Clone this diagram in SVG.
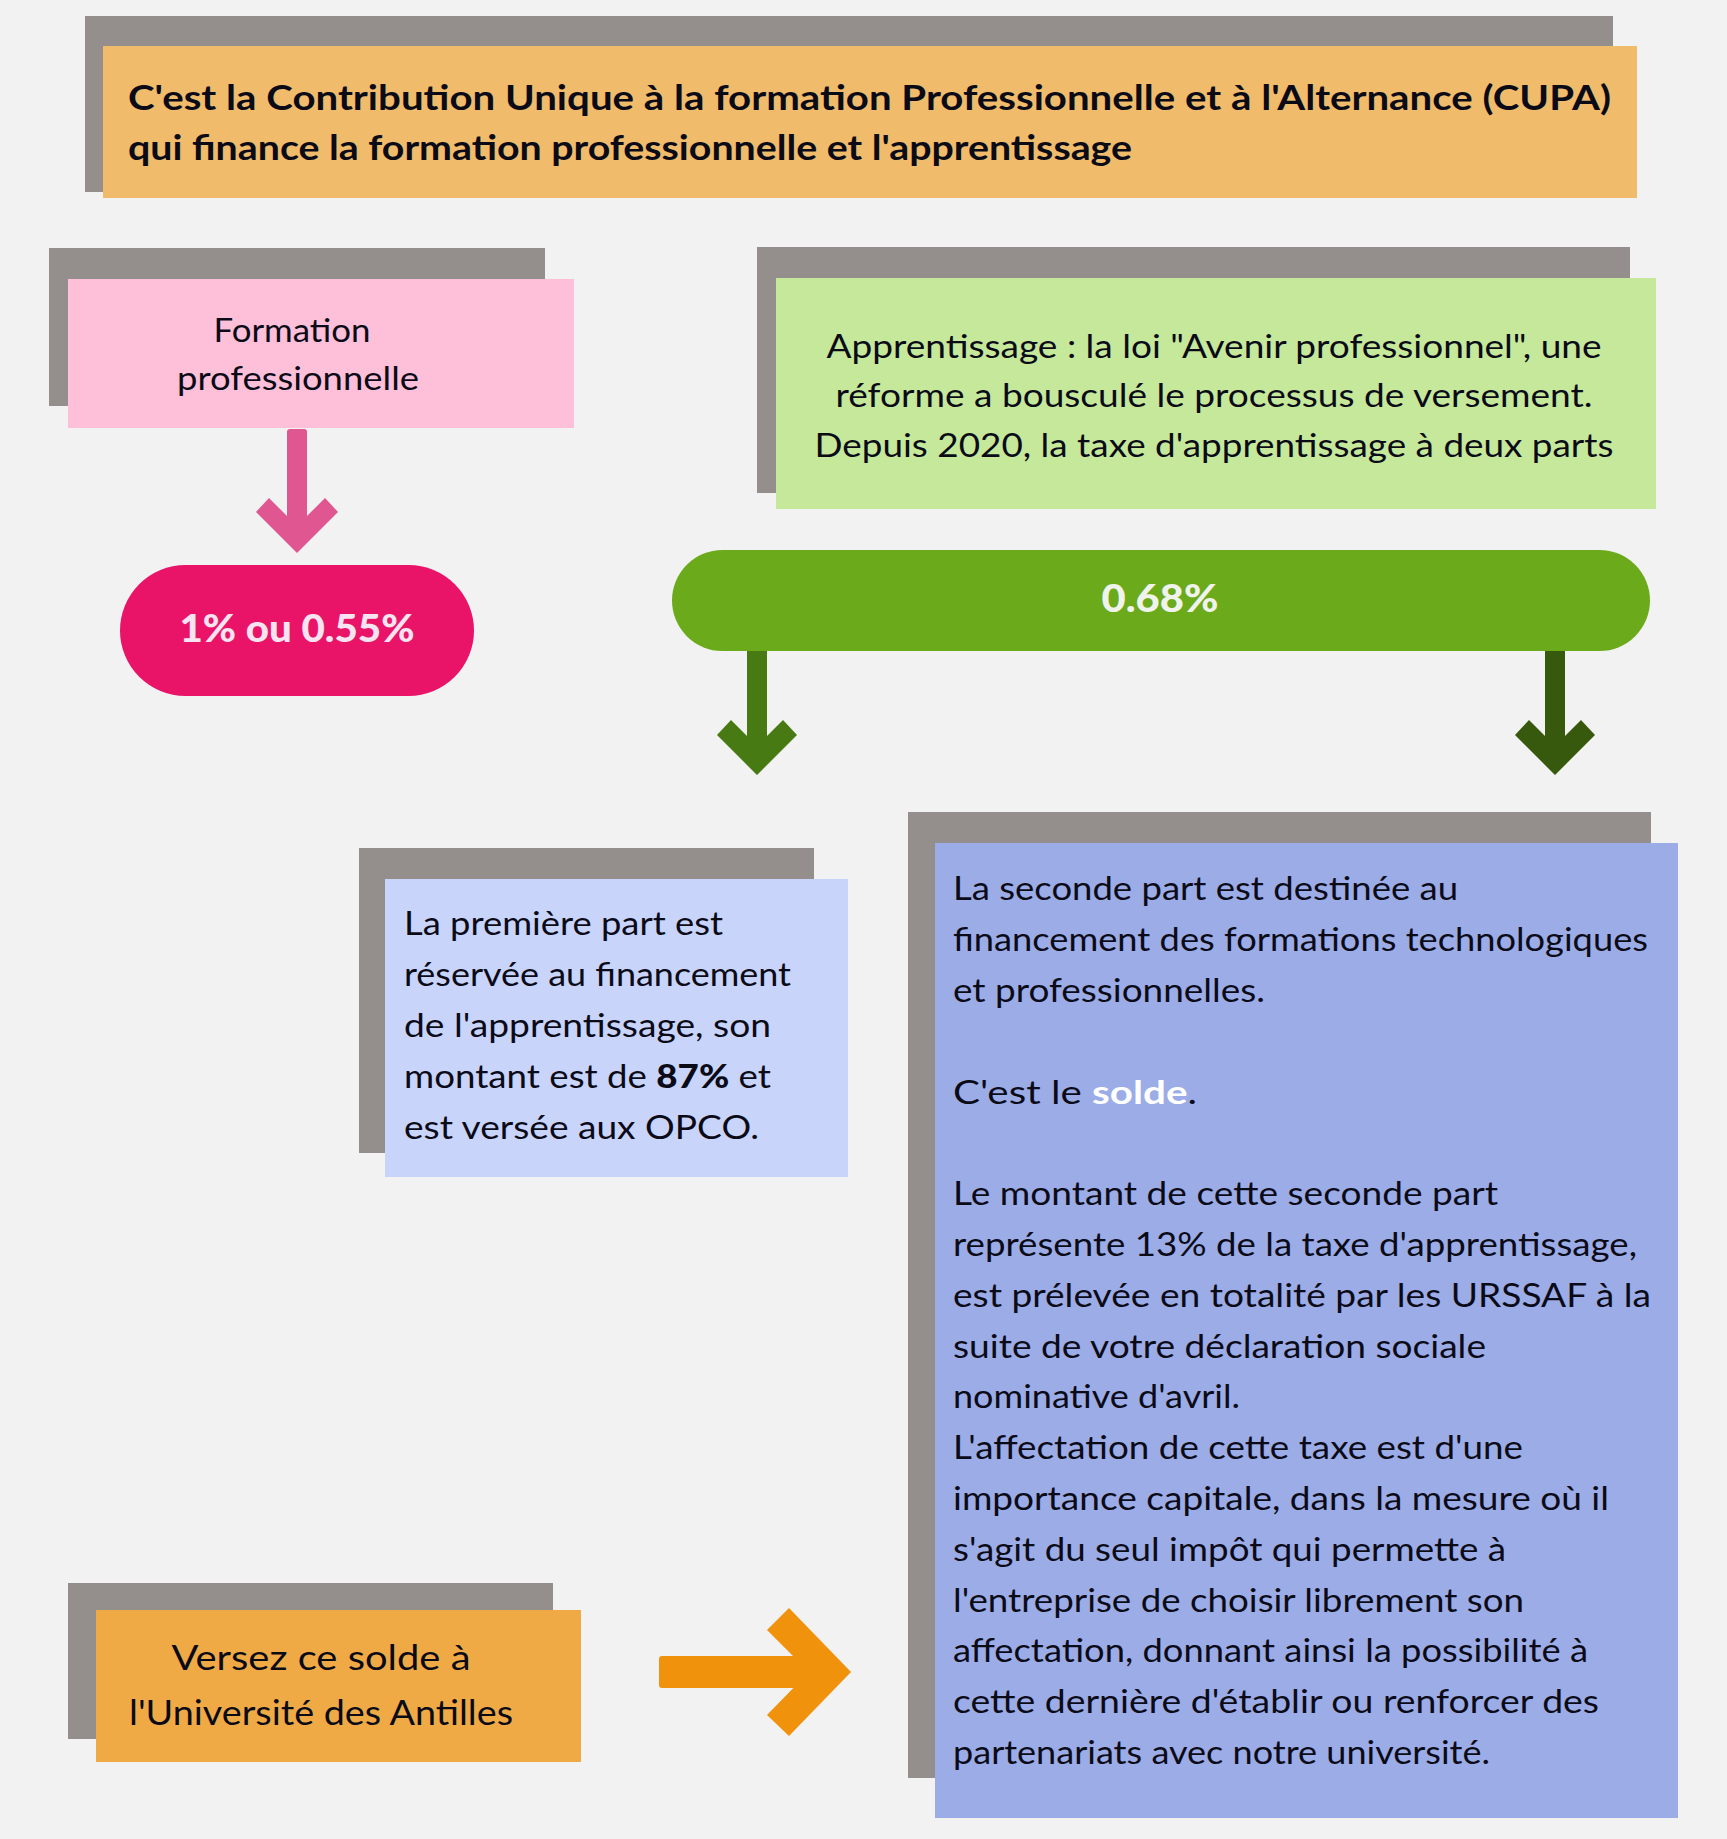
<svg xmlns="http://www.w3.org/2000/svg" width="1727" height="1839" viewBox="0 0 1727 1839">
<style>
.shadow{fill:#948F8C}
.t{font-family:Lato,"Liberation Sans",sans-serif;fill:#0B0B18}
.body{font-size:32px}
.bold{font-weight:700}
.pill{font-family:Lato,"Liberation Sans",sans-serif;font-weight:900;font-size:37px}
</style>
<rect x="0" y="0" width="1727" height="1839" fill="#F2F2F2"/>
<g id="node-cupa">
<rect class="shadow" x="85" y="16" width="1528" height="176"/>
<rect x="103" y="46" width="1534" height="152" fill="#F0BB6A"/>
<text class="t bold" font-size="35" x="128" y="110" textLength="1483" lengthAdjust="spacingAndGlyphs">C'est la Contribution Unique à la formation Professionnelle et à l'Alternance (CUPA)</text>
<text class="t bold" font-size="35" x="128" y="160" textLength="1004" lengthAdjust="spacingAndGlyphs">qui finance la formation professionnelle et l'apprentissage</text>
</g>
<g id="node-formation">
<rect class="shadow" x="49" y="248" width="496" height="158"/>
<rect x="68" y="279" width="506" height="149" fill="#FEBFD9"/>
<text class="t body" x="292" y="342" text-anchor="middle" textLength="157" lengthAdjust="spacingAndGlyphs">Formation</text>
<text class="t body" x="298" y="390" text-anchor="middle" textLength="242" lengthAdjust="spacingAndGlyphs">professionnelle</text>
</g>
<g id="node-apprentissage">
<rect class="shadow" x="757" y="247" width="873" height="246"/>
<rect x="776" y="278" width="880" height="231" fill="#C5E89A"/>
<text class="t body" x="1214" y="358" text-anchor="middle" textLength="775" lengthAdjust="spacingAndGlyphs">Apprentissage : la loi "Avenir professionnel", une</text>
<text class="t body" x="1214" y="407" text-anchor="middle" textLength="757" lengthAdjust="spacingAndGlyphs">réforme a bousculé le processus de versement.</text>
<text class="t body" x="1214" y="457" text-anchor="middle" textLength="799" lengthAdjust="spacingAndGlyphs">Depuis 2020, la taxe d'apprentissage à deux parts</text>
</g>
<g id="node-pct1">
<rect x="120" y="565" width="354" height="131" rx="65.5" fill="#E91368"/>
<text class="pill" x="297" y="642" text-anchor="middle" fill="#F8E4F0" textLength="235" lengthAdjust="spacingAndGlyphs">1% ou 0.55%</text>
</g>
<g id="node-pct068">
<rect x="672" y="550" width="978" height="101" rx="50.5" fill="#6BAA1A"/>
<text class="pill" x="1160" y="612" text-anchor="middle" fill="#F0F2EC" textLength="117" lengthAdjust="spacingAndGlyphs">0.68%</text>
</g>
<g id="node-premiere">
<rect class="shadow" x="359" y="848" width="455" height="305"/>
<rect x="385" y="879" width="463" height="298" fill="#C9D4FB"/>
<text class="t body" x="404" y="935" textLength="319" lengthAdjust="spacingAndGlyphs">La première part est</text>
<text class="t body" x="404" y="986" textLength="387" lengthAdjust="spacingAndGlyphs">réservée au financement</text>
<text class="t body" x="404" y="1037" textLength="367" lengthAdjust="spacingAndGlyphs">de l'apprentissage, son</text>
<text class="t body" x="404" y="1088" textLength="367" lengthAdjust="spacingAndGlyphs">montant est de <tspan font-weight="900">87%</tspan> et</text>
<text class="t body" x="404" y="1139" textLength="355" lengthAdjust="spacingAndGlyphs">est versée aux OPCO.</text>
</g>
<g id="node-seconde">
<rect class="shadow" x="908" y="812" width="743" height="966"/>
<rect x="935" y="843" width="743" height="975" fill="#9CACE7"/>
<text class="t body" x="953" y="900" textLength="505" lengthAdjust="spacingAndGlyphs">La seconde part est destinée au</text>
<text class="t body" x="953" y="951" textLength="695" lengthAdjust="spacingAndGlyphs">financement des formations technologiques</text>
<text class="t body" x="953" y="1002" textLength="312" lengthAdjust="spacingAndGlyphs">et professionnelles.</text>
<text class="t body" x="953" y="1104" textLength="244" lengthAdjust="spacingAndGlyphs">C'est le <tspan font-weight="700" fill="#FFFFFF">solde</tspan>.</text>
<text class="t body" x="953" y="1205" textLength="545" lengthAdjust="spacingAndGlyphs">Le montant de cette seconde part</text>
<text class="t body" x="953" y="1256" textLength="684" lengthAdjust="spacingAndGlyphs">représente 13% de la taxe d'apprentissage,</text>
<text class="t body" x="953" y="1307" textLength="698" lengthAdjust="spacingAndGlyphs">est prélevée en totalité par les URSSAF à la</text>
<text class="t body" x="953" y="1358" textLength="533" lengthAdjust="spacingAndGlyphs">suite de votre déclaration sociale</text>
<text class="t body" x="953" y="1408" textLength="287" lengthAdjust="spacingAndGlyphs">nominative d'avril.</text>
<text class="t body" x="953" y="1459" textLength="570" lengthAdjust="spacingAndGlyphs">L'affectation de cette taxe est d'une</text>
<text class="t body" x="953" y="1510" textLength="656" lengthAdjust="spacingAndGlyphs">importance capitale, dans la mesure où il</text>
<text class="t body" x="953" y="1561" textLength="553" lengthAdjust="spacingAndGlyphs">s'agit du seul impôt qui permette à</text>
<text class="t body" x="953" y="1612" textLength="571" lengthAdjust="spacingAndGlyphs">l'entreprise de choisir librement son</text>
<text class="t body" x="953" y="1662" textLength="635" lengthAdjust="spacingAndGlyphs">affectation, donnant ainsi la possibilité à</text>
<text class="t body" x="953" y="1713" textLength="646" lengthAdjust="spacingAndGlyphs">cette dernière d'établir ou renforcer des</text>
<text class="t body" x="953" y="1764" textLength="537" lengthAdjust="spacingAndGlyphs">partenariats avec notre université.</text>
</g>
<g id="node-versez">
<rect class="shadow" x="68" y="1583" width="485" height="156"/>
<rect x="96" y="1610" width="485" height="152" fill="#F0AA45"/>
<text class="t" font-size="34" x="321" y="1670" text-anchor="middle" textLength="299" lengthAdjust="spacingAndGlyphs">Versez ce solde à</text>
<text class="t" font-size="34" x="321" y="1725" text-anchor="middle" textLength="384" lengthAdjust="spacingAndGlyphs">l'Université des Antilles</text>
</g>
<g id="connectors">
<g id="arrow-formation" fill="#E05690">
<rect x="287" y="429" width="20" height="100" rx="3"/>
<polygon points="297,553 256,512 269,498 297,526 325,498 338,512"/>
</g>
<g id="arrow-premiere" fill="#477A12">
<rect x="747" y="651" width="20" height="100"/>
<polygon points="757,775 717,735 731,720 757,746 783,720 797,735"/>
</g>
<g id="arrow-seconde" fill="#37590D">
<rect x="1545" y="651" width="20" height="100"/>
<polygon points="1555,775 1515,735 1529,720 1555,746 1581,720 1595,735"/>
</g>
<g id="arrow-versez" fill="#F0920C">
<rect x="659" y="1656" width="156" height="32" rx="3"/>
<polygon points="851,1672 789,1608 767,1630 809,1672 767,1715 789,1736"/>
</g>
</g>
</svg>
